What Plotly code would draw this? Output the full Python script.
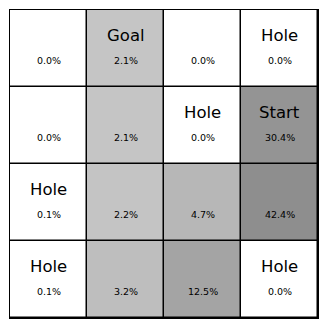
import math
import plotly.graph_objects as go

# ── grid data (rows top → bottom) ────────────────────────────────────────────
LABELS = [
    ["", "Goal", "", "Hole"],
    ["", "", "Hole", "Start"],
    ["Hole", "", "", ""],
    ["Hole", "", "", "Hole"],
]
PCT = [
    [0.0, 2.1, 0.0, 0.0],
    [0.0, 2.1, 0.0, 30.4],
    [0.1, 2.2, 4.7, 42.4],
    [0.1, 3.2, 12.5, 0.0],
]
COLS = [0, 1, 2, 3]
ROWS = [0, 1, 2, 3]

FONT = "DejaVu Sans"

# shade on a log scale; anything under 1% stays white
zmax = math.log10(max(max(r) for r in PCT))
shade = [[math.log10(max(v, 1.0)) for v in row] for row in PCT]

fig = go.Figure(go.Heatmap(
    x=COLS, y=ROWS, z=shade,
    zmin=0, zmax=zmax,
    colorscale=[[0, "#ffffff"], [0.0001, "rgb(211,211,211)"], [1, "rgb(142,142,142)"]],
    showscale=False,
    xgap=1.5, ygap=1.5,
    hoverinfo="skip",
))

annotations = []
for r in ROWS:
    for c in COLS:
        if LABELS[r][c]:
            annotations.append(dict(
                x=c, y=r, text=LABELS[r][c], showarrow=False, yshift=13,
                font=dict(family=FONT, size=16.5, color="#000"),
            ))
        annotations.append(dict(
            x=c, y=r, text=f"{PCT[r][c]:.1f}%", showarrow=False, yshift=-12,
            font=dict(family=FONT, size=9.5, color="#000"),
        ))

axis = dict(showgrid=False, zeroline=False, showticklabels=False, ticks="",
            showline=True, linecolor="#000", linewidth=1, mirror=True,
            range=[-0.5, 3.5])
fig.update_layout(
    width=328, height=328,
    margin=dict(l=10, r=10, t=10, b=10),
    paper_bgcolor="#ffffff",
    plot_bgcolor="#000000",
    xaxis=axis,
    yaxis=dict(axis, range=[3.5, -0.5]),
    annotations=annotations,
)

# page body has a default 8px margin; drop it so the figure sits at 0,0
fig.write_html("out.html", config={"displayModeBar": False},
               post_script="document.body.style.margin='0';document.body.style.overflow='hidden';")
